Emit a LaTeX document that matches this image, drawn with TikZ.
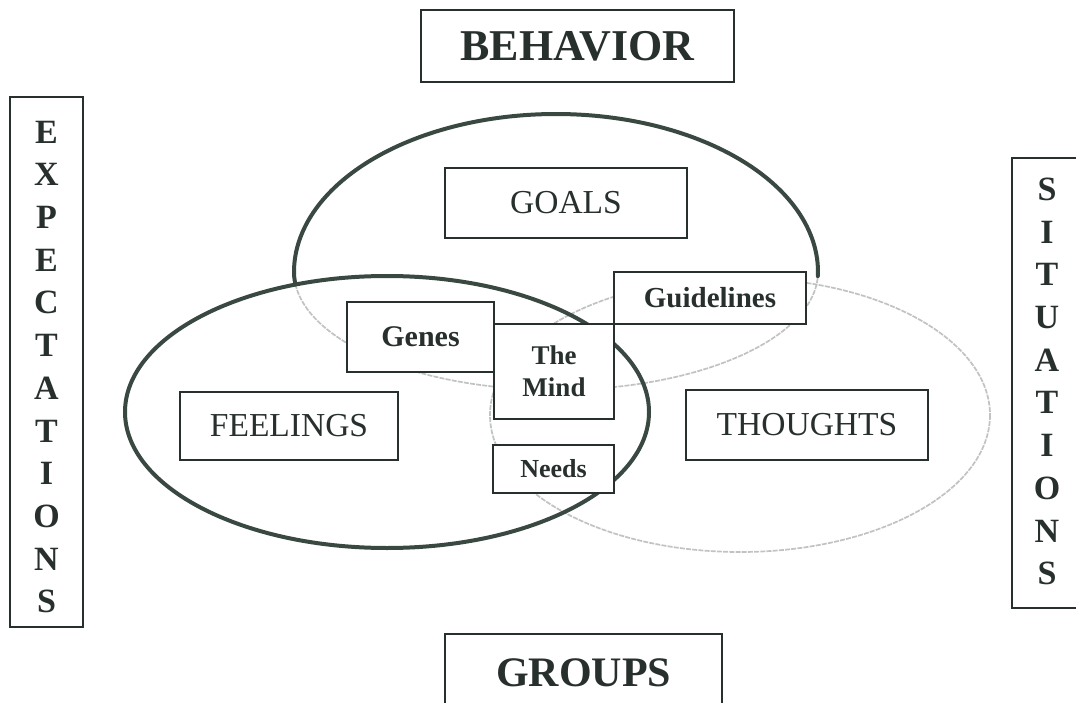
\documentclass[tikz,border=0pt]{standalone}
\usepackage{fontspec}
\setmainfont{Liberation Serif}
\definecolor{inkc}{RGB}{40,48,45}
\definecolor{ringc}{RGB}{58,72,66}
\definecolor{fadec}{RGB}{192,195,193}
\begin{document}
\begin{tikzpicture}[x=1pt,y=-1pt,
  labelbox/.style={draw=inkc, line width=1.4pt, fill=white, text=inkc,
                   inner sep=0pt, align=center},
  ring/.style={draw=ringc, line width=4pt, line cap=round},
  faint/.style={draw=fadec, line width=1.7pt, dash pattern=on 5pt off 1.2pt},
  letters/.style={text=inkc, align=center, inner sep=0pt,
                  font=\fontsize{34}{42.7}\selectfont\bfseries},
  big/.style={font=\fontsize{44}{50}\selectfont\bfseries},
  mid/.style={font=\fontsize{33.5}{38}\selectfont},
  small/.style={font=\fontsize{26}{31}\selectfont\bfseries}]
\useasboundingbox (0,0) rectangle (1076,703);

% THOUGHTS ring (faint)
\draw[faint] (740,415) ellipse [x radius=250, y radius=137];
% GOALS ring: faint lower half, dark upper half
\draw[faint] plot[domain=0:180, samples=120, smooth]
  ({556+262*cos(\x)}, {272+118*sin(\x)});
\draw[ring] plot[domain=-2:186, samples=160, smooth]
  ({556+262*cos(\x)}, {272-(sin(\x)>0 ? 158 : 118)*sin(\x)});
% FEELINGS ring (dark)
\draw[ring] (387,412) ellipse [x radius=262, y radius=136];

% outer frame labels
\node[labelbox, big, minimum width=313pt, minimum height=72pt] (behavior) at (577.5,46) {BEHAVIOR};
\node[labelbox, font=\fontsize{42}{48}\selectfont\bfseries, minimum width=277pt, minimum height=78pt] (groups) at (583.5,673) {GROUPS};
\node[labelbox, minimum width=73pt, minimum height=530pt] (expect) at (46.5,362) {};
\node[letters] (expectwords) at (46.5,367) {E\\X\\P\\E\\C\\T\\A\\T\\I\\O\\N\\S};
\node[labelbox, minimum width=73pt, minimum height=450pt] (situ) at (1048.5,383) {};
\node[letters] (situwords) at (1047,381.5) {S\\I\\T\\U\\A\\T\\I\\O\\N\\S};

% inner labels
\node[labelbox, mid, minimum width=242pt, minimum height=70pt] (goals) at (566,203) {GOALS};
\node[labelbox, mid, minimum width=218pt, minimum height=68pt] (feelings) at (289,426) {FEELINGS};
\node[labelbox, mid, minimum width=242pt, minimum height=70pt] (thoughts) at (807,425) {THOUGHTS};
\node[labelbox, font=\fontsize{29}{34}\selectfont\bfseries, minimum width=192pt, minimum height=52pt] (guide) at (710,298) {Guidelines};
\node[labelbox, font=\fontsize{30}{34}\selectfont\bfseries, minimum width=147pt, minimum height=70pt] (genes) at (420.5,337) {Genes};
\node[labelbox, font=\fontsize{27}{32}\selectfont\bfseries, minimum width=120pt, minimum height=95pt] (mind) at (554,371.5) {The\\Mind};
\node[labelbox, small, minimum width=121pt, minimum height=48pt] (needs) at (553.5,469) {Needs};
\end{tikzpicture}
\end{document}
